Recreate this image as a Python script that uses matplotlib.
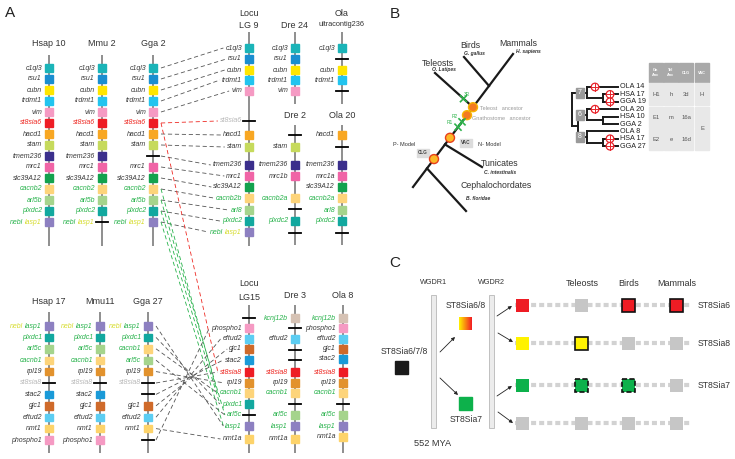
import matplotlib.pyplot as plt
import numpy as np
from matplotlib.patches import Rectangle, Circle

plt.rcParams["font.family"] = ["Liberation Sans", "DejaVu Sans"]
plt.rcParams["lines.scale_dashes"] = False

# ---------------- panel A data: gene order per chromosome ----------------
# kind per gene: b = gene present, t = gene lost (name kept), g = breakpoint only
TOP_ORDER = ["c1ql3", "rsu1", "cubn", "trdmt1", "vim", "st8sia6", "hacd1", "stam",
             "tmem236", "mrc1", "slc39A12", "cacnb2", "arl5b", "plxdc2", "nebl lasp1"]
HSAP10_KIND = "bbbbbbbbbbbbbbb"
MMU2_KIND = "bbbbbbbbbbbbbbt"
GGA2_KIND = "bbbbbbbbgbbbbbb"
LOCU9_GENES = ["c1ql3", "rsu1", "cubn", "trdmt1", "vim", "st8sia6", "hacd1", "stam",
               "tmem236", "mrc1", "slc39A12", "cacnb2b", "arl8", "plxdc2", "nebl lasp1"]
LOCU9_KIND = "bbbbbtbbbbbbbbb"
DRE24_GENES = ["c1ql3", "rsu1", "cubn", "trdmt1", "vim"]
DRE24_KIND = "bbbbb"
OLAU_GENES = ["c1ql3", "rsu1", "cubn", "trdmt1", "vim"]
OLAU_KIND = "bgbbg"
DRE2_GENES = ["hacd1", "stam", "tmem236", "mrc1b", "cacnb2a", "arl8", "plxdc2", "nebl"]
DRE2_KIND = "gbbbbgbg"
OLA20_GENES = ["hacd1", "stam", "tmem236", "mrc1a", "slc39A12", "cacnb2a", "arl8", "plxdc2", "nebl"]
OLA20_KIND = "bgbbbbbbg"

HSAP17_GENES = ["nebl lasp1", "plxdc1", "arl5c", "cacnb1", "rpl19", "st8sia8",
                "stac2", "gjc1", "eftud2", "nmt1", "phospho1"]
HSAP17_KIND = "bbbbbtbbbbb"
MMU11_KIND = "bbbbbtbbbbb"
GGA27_GENES = ["nebl lasp1", "plxdc1", "cacnb1", "arl5c", "rpl19", "st8sia8",
               "stac2", "gjc1", "eftud2", "nmt1", "phospho1"]
GGA27_KIND = "bbbbbtgbbbg"
FISH15_GENES = ["kcnj12b", "phospho1", "eftud2", "gjc1", "stac2", "st8sia8", "rpl19",
                "cacnb1", "plxdc1", "arl5c", "lasp1", "nmt1a"]
LOCU15_KIND = "gbbbbbbbbtbb"
DRE3_KIND = "bgbggbbbgbbb"
OLA8_KIND = "bbbbbbbbgbbb"

TOP_LINKS = [("c1ql3", "c1ql3"), ("rsu1", "rsu1"), ("cubn", "cubn"), ("trdmt1", "trdmt1"),
             ("vim", "vim"), ("hacd1", "hacd1"), ("stam", "stam"), ("tmem236", "tmem236"),
             ("mrc1", "mrc1"), ("slc39A12", "slc39A12"), ("cacnb2", "cacnb2b"),
             ("arl5b", "arl8"), ("plxdc2", "plxdc2"), ("nebl lasp1", "nebl lasp1")]
CROSS_LINKS = [("cacnb2", "cacnb1"), ("arl5b", "arl5c"), ("plxdc2", "plxdc1"),
               ("nebl lasp1", "lasp1")]
BOTTOM_LINKS = [("nebl lasp1", "lasp1"), ("plxdc1", "plxdc1"), ("cacnb1", "cacnb1"),
                ("arl5c", "arl5c"), ("rpl19", "rpl19"), ("st8sia8", "st8sia8"),
                ("stac2", "stac2"), ("gjc1", "gjc1"), ("eftud2", "eftud2"),
                ("nmt1", "nmt1a"), ("phospho1", "phospho1")]

GREEN = "#27b24b"
YELLOW = "#d6dc2c"
RED = "#ee2a24"
LOST = "#b9b9b9"
DARK = "#3a3a3a"

BOX_COLORS = {
    "c1ql3": "#1bb4b8", "rsu1": "#1a8ed0", "cubn": "#ffe600", "trdmt1": "#22c4ef",
    "vim": "#f59ac3", "st8sia6": "#ee1c24", "hacd1": "#f8a723", "stam": "#c6da5c",
    "tmem236": "#3b2f8c", "mrc1": "#f064a6", "mrc1a": "#f064a6", "mrc1b": "#f064a6",
    "slc39A12": "#13a24e", "cacnb2": "#fdd47a", "cacnb2a": "#fdd47a", "cacnb2b": "#fdd47a",
    "arl5b": "#a5d48c", "arl8": "#a5d48c", "plxdc2": "#12a89f", "nebl lasp1": "#8d80c1",
    "lasp1": "#8d80c1", "plxdc1": "#12a89f", "arl5c": "#a5d48c", "cacnb1": "#fdd47a",
    "rpl19": "#e2922d", "st8sia8": "#ee1c24", "stac2": "#1a9ad8", "gjc1": "#cf6a2a",
    "eftud2": "#5ccdf2", "nmt1": "#fdd36a", "nmt1a": "#fdd36a", "phospho1": "#f59ac3",
    "kcnj12b": "#d6c2b4",
}
TOP_TEXT = {"cacnb2": GREEN, "cacnb2a": GREEN, "cacnb2b": GREEN, "arl5b": GREEN,
            "arl8": GREEN, "plxdc2": GREEN, "nebl": GREEN, "lasp1": YELLOW, "st8sia6": RED}
BOTTOM_TEXT = {"nebl": YELLOW, "lasp1": GREEN, "plxdc1": GREEN, "arl5c": GREEN,
               "cacnb1": GREEN, "kcnj12b": GREEN, "st8sia8": RED}

# ---------------- panel B data ----------------
CLADES = ["Cephalochordates", "Tunicates", "Teleosts", "Birds", "Mammals"]
SPECIES = ["B. floridae", "C. intestinalis", "O. Latipes", "G. gallus", "H. sapiens"]
LEAVES = ["OLA 14", "HSA 17", "GGA 19", "OLA 20", "HSA 10", "GGA 2", "OLA 8", "HSA 17", "GGA 27"]
LEAF_LOST = [1, 1, 1, 1, 0, 0, 0, 1, 1]
PARALOGONS = ["7", "6", "8"]
TABLE_HEAD = ["Gn\nAnc", "Tel\nAnc", "CLG", "VAC"]
TABLE_ROWS = [["H1", "h", "3d", "H"], ["E1", "m", "16a", "E"], ["E2", "e", "16d", "E"]]

# ---------------- panel C data ----------------
C_GROUPS = ["Teleosts", "Birds", "Mammals"]
C_ROWS = ["ST8Sia6", "ST8Sia8", "ST8Sia7", ""]
C_FILL = [["r", "n", "r", "r"], ["y", "y", "n", "n"], ["g", "g", "g", "n"], ["n", "n", "n", "n"]]
C_EDGE = [["", "", "-", "-"], ["", "-", "", ""], ["", "--", "--", ""], ["", "", "", ""]]
C_COLORS = {"r": "#ee1c24", "y": "#fff200", "g": "#0db14b", "n": "#c6c6c6"}

fig = plt.figure(figsize=(7.35, 4.59), dpi=100)
ax = fig.add_axes([0, 0, 1, 1])
renderer = fig.canvas.get_renderer()


def draw_label(xr, y, label, colors, lost):
    cur = xr
    for w in reversed(label.split()):
        c = LOST if (lost and w.startswith("st8sia")) else colors.get(w, DARK)
        t = ax.text(cur, y, w, ha="right", va="center", fontsize=5, style="italic", color=c)
        cur -= t.get_window_extent(renderer).width + 2
    return cur + 2


def draw_chrom(x, titles, span, ys, genes, kinds, colors):
    ax.plot([x, x], span, color="#8e8e8e", lw=1.4, solid_capstyle="butt", zorder=1)
    for ty, tt in titles:
        fs = 5.3 if len(tt) > 8 else 6.5
        ax.text(x, ty, tt, ha="center", va="center", fontsize=fs, color="#333333")
    pos, lefts = {}, {}
    for y, g, k in zip(ys, genes, kinds):
        pos[g] = y
        if k == "b":
            ax.add_patch(Rectangle((x - 3.7, y - 3.7), 7.4, 7.4, color=BOX_COLORS[g], zorder=2))
        else:
            ax.plot([x - 6, x + 6], [y, y], color="black", lw=1.3, zorder=2)
        lefts[g] = x - 8 if k == "g" else draw_label(x - 7, y, g, colors, k == "t")
    return pos, lefts


def link(x0, y0, x1, y1, color):
    ax.plot([x0, x1], [y0, y1], color=color, lw=0.6, ls=(0, (3, 2)), zorder=0)


top_rows = [68 + 11 * i for i in range(15)]
bot_rows = [326 + 11.4 * i for i in range(11)]
draw_chrom(49, [(43, "Hsap 10")], (55, 246), top_rows, TOP_ORDER, HSAP10_KIND, TOP_TEXT)
draw_chrom(102, [(43, "Mmu 2")], (55, 246), top_rows, TOP_ORDER, MMU2_KIND, TOP_TEXT)
g2_pos, _ = draw_chrom(153, [(43, "Gga 2")], (55, 246), top_rows, TOP_ORDER, GGA2_KIND, TOP_TEXT)
l9_rows = [48, 59, 70, 80, 91, 121, 135, 147, 165, 176, 187, 198, 210, 221, 232]
l9_y, l9_left = draw_chrom(249, [(13, "Locu"), (25, "LG 9")], (32, 246), l9_rows,
                           LOCU9_GENES, LOCU9_KIND, TOP_TEXT)
draw_chrom(295, [(25, "Dre 24")], (32, 104), [48, 59, 70, 80, 91], DRE24_GENES, DRE24_KIND, TOP_TEXT)
draw_chrom(342, [(13, "Ola"), (25, "ultracontig236")], (32, 104), [48, 59, 70, 80, 91],
           OLAU_GENES, OLAU_KIND, TOP_TEXT)
draw_chrom(295, [(116, "Dre 2")], (125, 245), [135, 147, 165, 176, 198, 209, 221, 233],
           DRE2_GENES, DRE2_KIND, TOP_TEXT)
draw_chrom(342, [(116, "Ola 20")], (125, 245), [135, 147, 165, 176, 187, 198, 210, 221, 233],
           OLA20_GENES, OLA20_KIND, TOP_TEXT)

draw_chrom(49, [(302, "Hsap 17")], (312, 453), bot_rows, HSAP17_GENES, HSAP17_KIND, BOTTOM_TEXT)
draw_chrom(100, [(302, "Mmu11")], (312, 453), bot_rows, HSAP17_GENES, MMU11_KIND, BOTTOM_TEXT)
g27_pos, _ = draw_chrom(148, [(302, "Gga 27")], (312, 453), bot_rows, GGA27_GENES, GGA27_KIND, BOTTOM_TEXT)
l15_pos, l15_left = draw_chrom(249, [(284, "Locu"), (297, "LG15")], (305, 453),
                               [318, 328, 339, 349, 360, 372, 383, 393, 404, 415, 426, 439],
                               FISH15_GENES, LOCU15_KIND, BOTTOM_TEXT)
draw_chrom(295, [(296, "Dre 3")], (305, 453),
           [318, 328, 339, 350, 360, 372, 383, 393, 404, 415, 426, 439],
           FISH15_GENES, DRE3_KIND, BOTTOM_TEXT)
draw_chrom(343, [(296, "Ola 8")], (305, 453),
           [318, 328, 339, 349, 359, 372, 383, 393, 404, 415, 426, 437],
           FISH15_GENES, OLA8_KIND, BOTTOM_TEXT)

for s, d in TOP_LINKS:
    link(161, g2_pos[s], l9_left[d] - 2, l9_y[d], "#555555")
link(161, g2_pos["st8sia6"], l9_left["st8sia6"] - 2, l9_y["st8sia6"], RED)
link(161, g2_pos["st8sia6"], l15_left["st8sia8"] - 2, l15_pos["st8sia8"], RED)
for s, d in CROSS_LINKS:
    link(161, g2_pos[s], l15_left[d] - 2, l15_pos[d], GREEN)
for s, d in BOTTOM_LINKS:
    link(156, g27_pos[s], l15_left[d] - 2, l15_pos[d], "#555555")

# ---------------- panel B: species tree ----------------
P0, P1 = np.array([413.0, 187.0]), np.array([513.0, 54.0])
trunk = lambda t: P0 + t * (P1 - P0)
ax.plot([P0[0], P1[0]], [P0[1], P1[1]], color="#1a1a1a", lw=1.6, zorder=3)
branch_t = [0.14, 0.32, 0.60, 0.76, 1.0]
tips = [(466, 211), (482, 167), (435, 73), (464, 57), (513, 54)]
name_xy = [(496, 186), (500, 163), (438, 63), (470, 45), (518, 43)]
sp_xy = [(478, 199), (500, 172), (444, 70), (474, 53), (528, 52)]
for t, tip, clade, sp, nxy, sxy in zip(branch_t, tips, CLADES, SPECIES, name_xy, sp_xy):
    b = trunk(t)
    ax.plot([b[0], tip[0]], [b[1], tip[1]], color="#1a1a1a", lw=1.6, zorder=3)
    ax.text(*nxy, clade, ha="center", va="center", fontsize=6.3, color="#333333")
    ax.text(*sxy, sp, ha="center", va="center", fontsize=3.6, style="italic",
            weight="bold", color="#333333")

for t, fc, ec in [(0.21, "#fcb827", "#e8401c"), (0.37, "#fcb827", "#e8401c"),
                  (0.54, "#f47a20", "#f7b500"), (0.60, "#f47a20", "#f7b500")]:
    c = trunk(t)
    ax.add_patch(Circle(c, 4.5, facecolor=fc, edgecolor=ec, lw=1, zorder=5))


def green_x(c):
    for dx in (-3, 3):
        ax.plot([c[0] - dx, c[0] + dx], [c[1] - 3, c[1] + 3], color="#2db34a", lw=1.2, zorder=6)


green_x(trunk(0.45))
green_x(trunk(0.49))
tb = trunk(0.60)
green_x(tb + 0.25 * (np.array(tips[2]) - tb))
ax.text(450, 123, "R1", fontsize=3.5, color="#2db34a", ha="center", va="center")
ax.text(455, 116, "R2", fontsize=3.5, color="#2db34a", ha="center", va="center")
ax.text(467, 94, "3R", fontsize=3.5, color="#2db34a", ha="center", va="center")
ax.text(480, 108, "Teleost   ancestor", fontsize=4, color="#9a9a9a", va="center")
ax.text(472, 119, "Gnathostome   ancestor", fontsize=4, color="#9a9a9a", va="center")
for bx, by, txt in [(466, 143, "VAC"), (423, 153, "CLG")]:
    ax.add_patch(Rectangle((bx - 6, by - 4), 12, 8, color="#dcdcdc", zorder=2))
    ax.text(bx, by, txt, fontsize=3.3, weight="bold", color="#444444", ha="center", va="center")
ax.text(478, 145, "N- Model", fontsize=4, color="#333333", va="center")
ax.text(415, 145, "P- Model", fontsize=4, color="#333333", va="center", ha="right")

# ---------------- panel B: paralogon tree and table ----------------
leaf_y = [87 + 7.4 * i for i in range(9)]
TL = "#1a1a1a"
for i, (lab, lost) in enumerate(zip(LEAVES, LEAF_LOST)):
    ax.text(620, leaf_y[i], lab, fontsize=5.2, color="#222222", va="center")
box_y = []
for g in range(3):
    y0, y1, y2 = leaf_y[3 * g:3 * g + 3]
    mid = (y1 + y2) / 2
    ax.plot([587, 618], [y0, y0], color=TL, lw=1.4)
    ax.plot([603, 618], [y1, y1], color=TL, lw=1.4)
    ax.plot([603, 618], [y2, y2], color=TL, lw=1.4)
    ax.plot([603, 603], [y1, y2], color=TL, lw=1.4)
    ax.plot([587, 603], [mid, mid], color=TL, lw=1.4)
    ax.plot([587, 587], [y0, mid], color=TL, lw=1.4)
    cy = (y0 + mid) / 2
    ax.plot([578, 587], [cy, cy], color=TL, lw=1.4)
    box_y.append(cy)
ax.plot([578, 578], [box_y[1], box_y[2]], color=TL, lw=1.4)
root_low = (box_y[1] + box_y[2]) / 2
ax.plot([572, 572], [box_y[0], root_low], color=TL, lw=1.4)
ax.plot([572, 578], [box_y[0], box_y[0]], color=TL, lw=1.4)
ax.plot([572, 578], [root_low, root_low], color=TL, lw=1.4)
for cy, lab in zip(box_y, PARALOGONS):
    ax.add_patch(Rectangle((576, cy - 5), 8, 10, color="#9a9a9a", zorder=4))
    ax.text(580, cy, lab, fontsize=5, color="white", ha="center", va="center", zorder=5)
for i, lost in enumerate(LEAF_LOST):
    if lost:
        cx = 595 if i % 3 == 0 else 610
        cy = leaf_y[i]
        ax.add_patch(Circle((cx, cy), 3.8, facecolor="white", edgecolor="#e8232a", lw=0.9, zorder=6))
        ax.plot([cx - 3.8, cx + 3.8], [cy, cy], color="#e8232a", lw=0.7, zorder=7)
        ax.plot([cx, cx], [cy - 3.8, cy + 3.8], color="#e8232a", lw=0.7, zorder=7)

col_x = [(649, 663), (664, 678), (679, 693), (695, 709)]
row_y = [(83, 105), (107, 128), (129, 150)]
for (x0, x1), head in zip(col_x, TABLE_HEAD):
    ax.add_patch(Rectangle((x0, 63), x1 - x0, 19, color="#a9a9a9"))
    ax.text((x0 + x1) / 2, 72.5, head, fontsize=2.8, color="white", ha="center",
            va="center", weight="bold", linespacing=1.1)
for r, row in enumerate(TABLE_ROWS):
    for c, val in enumerate(row):
        (x0, x1), (y0, y1) = col_x[c], row_y[r]
        if c == 3 and r > 0:
            if r == 2:
                continue
            y1 = row_y[2][1]
        ax.add_patch(Rectangle((x0, y0), x1 - x0, y1 - y0, color="#e8e8e8"))
        ax.text((x0 + x1) / 2, (y0 + y1) / 2, val, fontsize=4.2, color="#555555",
                ha="center", va="center")

# ---------------- panel C ----------------
for bx, lab in [(431, "WGDR1"), (489, "WGDR2")]:
    ax.add_patch(Rectangle((bx, 295), 5, 133, facecolor="#ececec", edgecolor="#b8b8b8", lw=0.6))
    ax.text(bx + 2.5, 283, lab, fontsize=5.2, color="#333333", ha="center", va="center")
ax.add_patch(Rectangle((395.5, 360.5), 13, 13, color="#1a1a1a"))
ax.text(428, 351, "ST8Sia6/7/8", fontsize=6.2, color="#333333", ha="right", va="center")
ax.text(433, 443, "552 MYA", fontsize=6.6, color="#333333", ha="center", va="center")
grad = np.linspace([1.0, 0.95, 0.0], [0.95, 0.11, 0.14], 40)[None, :, :]
ax.imshow(grad, extent=(459.5, 472.5, 330.5, 317.5), aspect="auto", zorder=3)
ax.text(466, 306, "ST8Sia6/8", fontsize=6.2, color="#333333", ha="center", va="center")
ax.add_patch(Rectangle((459.5, 396.5), 13, 13, color="#0db14b"))
ax.text(466, 420, "ST8Sia7", fontsize=6.2, color="#333333", ha="center", va="center")

ARROW = dict(arrowstyle="-|>", lw=0.6, color="#222222", mutation_scale=5, shrinkA=0, shrinkB=0)
for a, b in [((440, 352), (455, 337)), ((440, 378), (458, 395)),
             ((497, 316), (512, 306)), ((498, 333), (513, 342)),
             ((497, 396), (512, 386)), ((498, 412), (513, 423))]:
    ax.annotate("", xy=b, xytext=a, arrowprops=ARROW)

c_x = [523, 582, 629, 677]
c_y = [305, 343, 385, 423]
for gx, g in zip(c_x[1:], C_GROUPS):
    ax.text(gx, 283, g, fontsize=6.5, color="#333333", ha="center", va="center")
for r in range(4):
    y = c_y[r]
    ax.plot([515, 690], [y, y], color="#d2d2d2", lw=3, ls=(0, (3.6, 2.2)), zorder=1)
    for c in range(4):
        edge = C_EDGE[r][c]
        ax.add_patch(Rectangle((c_x[c] - 6.5, y - 6.5), 13, 13, facecolor=C_COLORS[C_FILL[r][c]],
                               edgecolor="#111111" if edge else "none", lw=1.2 if edge else 0,
                               ls="--" if edge == "--" else "-", zorder=2))
    if C_ROWS[r]:
        ax.text(698, y, C_ROWS[r], fontsize=6.2, color="#333333", va="center")

for x, y, lab in [(10, 13, "A"), (395, 14, "B"), (395, 263, "C")]:
    ax.text(x, y, lab, fontsize=11, color="#222222", ha="center", va="center")

ax.set_xlim(0, 735)
ax.set_ylim(459, 0)
ax.axis("off")
fig.savefig("out.png", dpi=100)
